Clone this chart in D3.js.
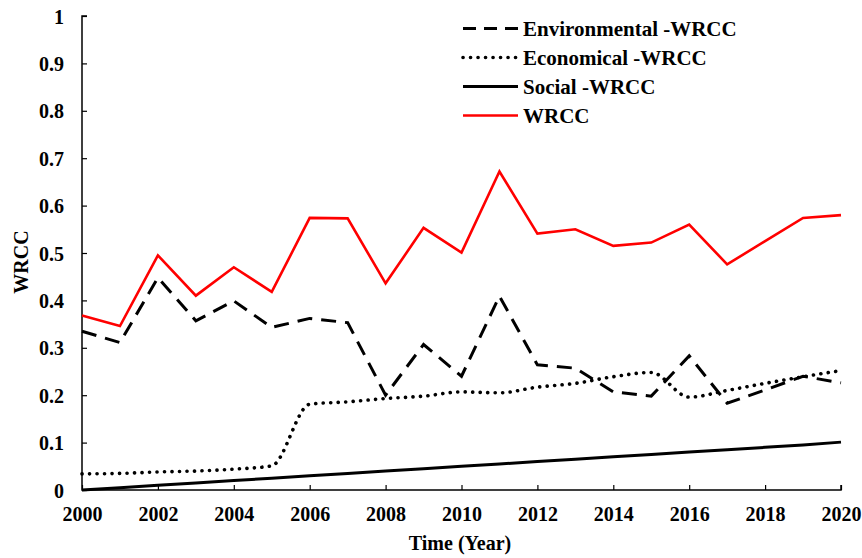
<!DOCTYPE html>
<html><head><meta charset="utf-8">
<script src="https://cdn.jsdelivr.net/npm/d3@7"></script>
<style>body{margin:0;background:#fff}svg{display:block}text{font-family:"Liberation Serif","Times New Roman",serif;font-weight:bold}</style>
</head><body><svg id="c" width="862" height="558"></svg>
<script>
const years = [2000,2001,2002,2003,2004,2005,2006,2007,2008,2009,2010,2011,2012,2013,2014,2015,2016,2017,2018,2019,2020];
const environmental = [0.335,0.311,0.448,0.357,0.399,0.343,0.362,0.353,0.200,0.307,0.240,0.409,0.264,0.257,0.207,0.198,0.283,0.183,0.211,0.240,0.226];
const economical = [0.034,0.035,0.038,0.040,0.044,0.051,0.181,0.186,0.193,0.198,0.207,0.205,0.217,0.225,0.239,0.248,0.196,0.210,0.225,0.239,0.252];
const social = [0.000,0.005,0.010,0.015,0.020,0.025,0.030,0.035,0.040,0.045,0.050,0.055,0.060,0.065,0.070,0.075,0.080,0.085,0.090,0.095,0.101];
const wrcc = [0.368,0.346,0.495,0.410,0.470,0.418,0.574,0.573,0.436,0.553,0.501,0.672,0.541,0.550,0.515,0.522,0.560,0.476,0.525,0.574,0.580];
const xTicks = [2000,2002,2004,2006,2008,2010,2012,2014,2016,2018,2020];
const yTicks = [0,0.1,0.2,0.3,0.4,0.5,0.6,0.7,0.8,0.9,1];
const legendLabels = ["Environmental -WRCC","Economical -WRCC","Social -WRCC","WRCC"];

const svg = d3.select("#c");
const x = d3.scaleLinear().domain([2000,2020]).range([82,841]);
const y = d3.scaleLinear().domain([0,1]).range([490,16]);

const styles = [
  {data:environmental, color:"#000", w:3, dash:"15,9", cap:"butt", curve:d3.curveLinear},
  {data:economical, color:"#000", w:3.6, dash:"0.1,7.4", cap:"round", curve:d3.curveMonotoneX},
  {data:social, color:"#000", w:3, dash:null, cap:"butt", curve:d3.curveLinear},
  {data:wrcc, color:"#ff0000", w:2.6, dash:null, cap:"butt", curve:d3.curveLinear}
];

// axes
const yAxis = svg.append("g").attr("transform","translate(82,0)")
  .call(d3.axisRight(y).tickValues(yTicks).tickSize(5).tickFormat(d=>d3.format("")(+d.toFixed(1))));
yAxis.select(".domain").attr("d","M5,16H0V490H5").attr("stroke-width",1.5).attr("stroke","#000");
yAxis.selectAll(".tick line").attr("stroke-width",1.2);
yAxis.selectAll(".tick text").attr("x",-18).attr("text-anchor","end").attr("font-size",20).attr("dy","0.35em");

const xAxis = svg.append("g").attr("transform","translate(0,490)")
  .call(d3.axisTop(x).tickValues(xTicks).tickSize(5).tickFormat(d3.format("d")));
xAxis.select(".domain").attr("d","M82,0H841V-5").attr("stroke-width",1.5).attr("stroke","#000");
xAxis.selectAll(".tick line").attr("stroke-width",1.2);
xAxis.selectAll(".tick text").attr("y",24).attr("dy","0.35em").attr("font-size",20);
svg.selectAll(".tick text").attr("fill","#000").attr("font-family","Liberation Serif, serif").attr("font-weight","bold");

// lines
styles.forEach(s=>{
  const line = d3.line().x((d,i)=>x(years[i])).y(d=>y(d)).curve(s.curve);
  svg.append("path").datum(s.data).attr("d",line).attr("fill","none")
    .attr("stroke",s.color).attr("stroke-width",s.w).attr("stroke-linecap",s.cap)
    .attr("stroke-dasharray",s.dash).attr("stroke-linejoin","miter");
});

// legend
const lg = svg.append("g");
legendLabels.forEach((lab,i)=>{
  const s = styles[i];
  const yy = 28.5 + i*29;
  lg.append("line").attr("x1",463).attr("x2",518).attr("y1",yy).attr("y2",yy)
    .attr("stroke",s.color).attr("stroke-width",s.w).attr("stroke-linecap",s.cap)
    .attr("stroke-dasharray", i===0 ? "13,8" : s.dash);
  lg.append("text").attr("x",523).attr("y",yy).attr("dy","0.35em").attr("font-size",21).text(lab);
});

// titles
svg.append("text").attr("x",460).attr("y",543).attr("dy","0.35em").attr("text-anchor","middle").attr("font-size",20).text("Time (Year)");
svg.append("text").attr("transform","translate(21,262) rotate(-90)").attr("dy","0.35em").attr("text-anchor","middle").attr("font-size",20).text("WRCC");
</script></body></html>
